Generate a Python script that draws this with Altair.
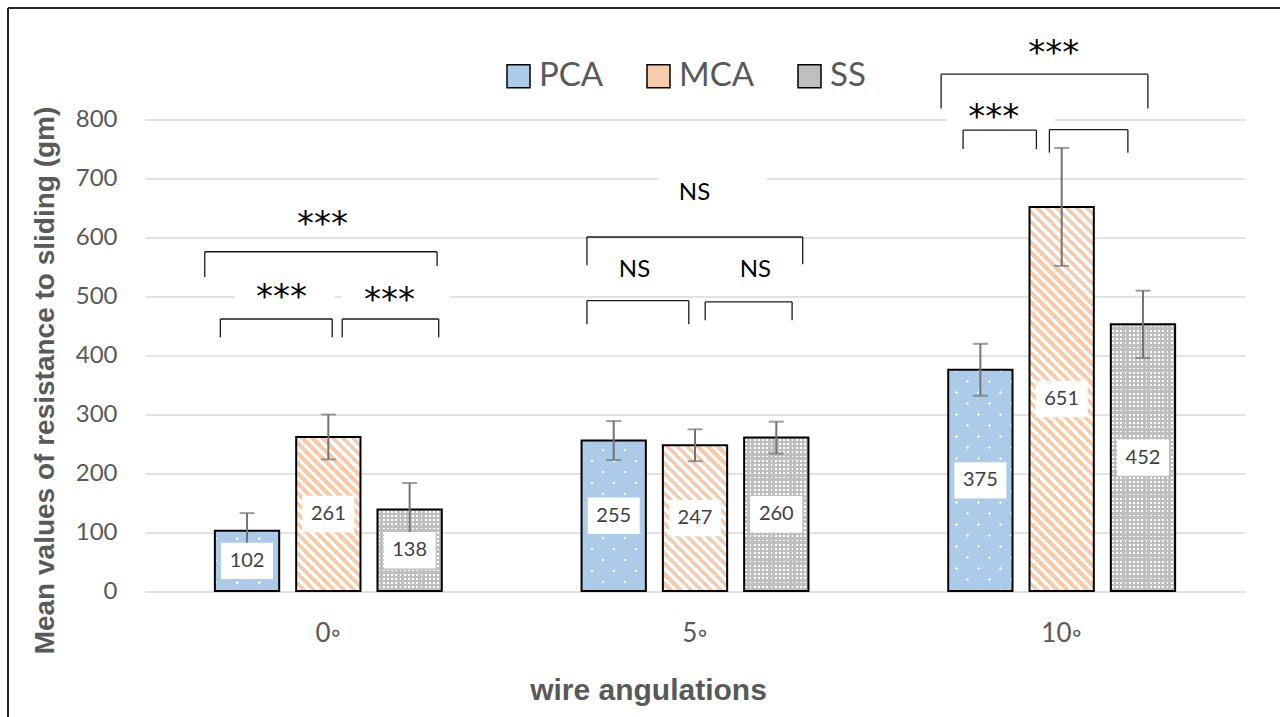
import math
import altair as alt
import pandas as pd

# ---------------- data ----------------
categories = ["0◦", "5◦", "10◦"]
series_names = ["PCA", "MCA", "SS"]
pca_values = [102, 255, 375]
mca_values = [261, 247, 651]
ss_values = [138, 260, 452]
pca_errors = [30, 33, 44]
mca_errors = [38, 27, 100]
ss_errors = [45, 27, 57]

# significance brackets: category index, ends relative to category centre (in category units),
# level of the bar of the bracket and level of each leg end
bracket_group = [0, 0, 0, 1, 1, 1, 2, 2, 2]
bracket_left = [-0.337, -0.2945, 0.0379, -0.2947, -0.2947, 0.0278, -0.3288, -0.2689, -0.0335]
bracket_right = [0.2966, 0.0106, 0.3010, 0.2937, -0.0169, 0.2648, 0.2351, -0.0689, 0.1806]
bracket_top = [575, 461, 461, 600, 492, 490, 876, 781, 782]
bracket_left_end = [532, 430, 430, 552, 452, 459, 818, 749, 743]
bracket_right_end = [551, 430, 430, 554, 452, 459, 818, 749, 743]

sig_group = [0, 0, 0, 1, 1, 1, 2, 2]
sig_offset = [-0.016, -0.1275, 0.1667, -0.0014, -0.165, 0.1648, -0.0218, -0.1852]
sig_level = [620, 496, 491, 674, 544, 544, 911, 802]
sig_text = ["***", "***", "***", "NS", "NS", "NS", "***", "***"]

# white text boxes (hide gridlines behind some significance labels)
box_group = [0, 0, 1, 2]
box_left = [-0.2555, 0.036, -0.0994, -0.3133]
box_right = [0.0169, 0.330, 0.195, -0.0191]
box_bottom = [485, 485, 660, 790]
box_top = [530, 530, 715, 850]

series_colors = ["#ABCBE9", "#F8CBAD", "#BFBFBF"]
CLEAR = "rgba(255,255,255,0)"

# ---------------- layout ----------------
W, H = 1100, 560.5
YMAX = 950
PXU = H / YMAX
BAND = W / 3
STEP, BW = 81.3, 64.3
P_IN = 1 - BW / STEP
P_OUT = (BAND / STEP - 3 + P_IN) / 2

YTITLE = "Mean values of resistance to sliding (gm)"
GRAY_TXT = "#595959"

rows = []
for si, (s, vals, errs) in enumerate(zip(series_names, [pca_values, mca_values, ss_values],
                                          [pca_errors, mca_errors, ss_errors])):
    for ci, (c, v, e) in enumerate(zip(categories, vals, errs)):
        rows.append(dict(cat=c, ci=ci, series=s, si=si, value=v, lo=v - e, hi=v + e,
                         mid=v / 2, label=str(v)))
df = pd.DataFrame(rows)

yaxis = alt.Axis(values=list(range(0, 801, 100)), grid=True, gridColor="#D9D9D9", gridWidth=1.3,
                 ticks=False, tickSize=0, domain=False, labelFont="Lato", labelFontSize=24,
                 labelColor=GRAY_TXT, labelPadding=28, titleFont="Liberation Sans",
                 titleFontWeight="bold", titleFontSize=28, titleColor=GRAY_TXT,
                 titleX=-100, titleY=349.5, titleAngle=270, titleAlign="center",
                 titleBaseline="middle")
xaxis = alt.Axis(labelAngle=0, ticks=False, tickSize=0, domain=False, grid=False,
                 labelFont="Lato", labelFontSize=26, labelColor=GRAY_TXT, labelPadding=29,
                 titleFont="Liberation Sans", titleFontWeight="bold", titleFontSize=30,
                 titleColor=GRAY_TXT, titleX=503, titleY=99, titleAlign="center",
                 titleBaseline="middle")


def X():
    return alt.X("cat:N", scale=alt.Scale(domain=categories, paddingInner=0, paddingOuter=0),
                 axis=xaxis, title="wire angulations")


def XO():
    return alt.XOffset("series:N", scale=alt.Scale(domain=series_names, paddingInner=P_IN,
                                                    paddingOuter=P_OUT))


def Y(field):
    return alt.Y(f"{field}:Q", scale=alt.Scale(domain=[0, YMAX], nice=False, zero=True),
                 axis=yaxis, title=YTITLE)


def grad(w, h, normal, period, on_w, on_color, off_color, phase=0.0):
    nx, ny = normal
    L = math.hypot(nx, ny)
    nx, ny = nx / L, ny / L
    corners = [(0.0, 0.0), (1.0, 0.0), (0.0, 1.0), (1.0, 1.0)]
    ds = [nx * cx * w + ny * cy * h for cx, cy in corners]
    i0 = min(range(4), key=lambda i: ds[i])
    span = max(ds) - ds[i0]
    gx, gy = nx * w, ny * h
    lam = span / (gx * gx + gy * gy)
    ax, ay = corners[i0]
    bx, by = ax + lam * gx, ay + lam * gy
    stops = [(0.0, off_color)]
    k = 0
    while True:
        a = phase + k * period
        b = a + on_w
        if a >= span:
            break
        oa = round(max(a, 0) / span, 5)
        ob = round(min(b, span) / span, 5)
        stops += [(oa, off_color), (oa, on_color), (ob, on_color), (ob, off_color)]
        k += 1
    stops.append((1.0, off_color))
    return {"gradient": "linear", "x1": round(ax, 5), "y1": round(ay, 5),
            "x2": round(bx, 5), "y2": round(by, 5),
            "stops": [{"offset": o, "color": c} for o, c in stops]}


# ---------------- bars ----------------
base = alt.Chart(df).mark_bar(strokeWidth=0).encode(
    x=X(), xOffset=XO(), y=Y("value"),
    fill=alt.Fill("series:N", scale=alt.Scale(domain=series_names, range=series_colors),
                  legend=alt.Legend(title=None, orient="none", legendX=357, legendY=29,
                                    direction="horizontal", symbolType="square",
                                    symbolSize=529, symbolStrokeColor="black",
                                    symbolStrokeWidth=1.5, labelFont="Lato",
                                    labelFontSize=33, labelColor=GRAY_TXT, labelOffset=4,
                                    columnPadding=38, padding=0)),
)

pattern_layers = []
for r in rows:
    w, h = BW, r["value"] * PXU
    basecol = series_colors[r["si"]]
    if r["series"] == "PCA":
        grads = [grad(w, h, (1, -1), 15.56, 2.2, "white", CLEAR, 5.0),
                 grad(w, h, (1, 1), 15.56, 2.2, CLEAR, basecol, 5.0)]
    elif r["series"] == "MCA":
        grads = [grad(w, h, (1, -1), 7.1, 3.3, "white", CLEAR, 1.0)]
    else:
        grads = [grad(w, h, (1, 0), 4.2, 1.8, "white", CLEAR, 1.2),
                 grad(w, h, (0, 1), 4.2, 1.8, CLEAR, basecol, 1.2)]
    for g in grads:
        pattern_layers.append(
            alt.Chart(df).transform_filter(f"datum.ci == {r['ci']} && datum.si == {r['si']}")
            .mark_bar(fill=g, strokeWidth=0)
            .encode(x=X(), xOffset=XO(), y=Y("value"))
        )

outline = alt.Chart(df).mark_bar(fillOpacity=0, stroke="black", strokeWidth=2).encode(
    x=X(), xOffset=XO(), y=Y("value"))

err_rule = alt.Chart(df).mark_rule(color="#737373", strokeWidth=2).encode(
    x=X(), xOffset=XO(), y=Y("lo"), y2="hi:Q")
err_lo = alt.Chart(df).mark_tick(color="#737373", size=15, thickness=2).encode(
    x=X(), xOffset=XO(), y=Y("lo"))
err_hi = alt.Chart(df).mark_tick(color="#737373", size=15, thickness=2).encode(
    x=X(), xOffset=XO(), y=Y("hi"))

label_box = alt.Chart(df).mark_point(
    shape="M-1,-0.7L1,-0.7L1,0.7L-1,0.7Z", size=2704, filled=True, fill="white",
    opacity=1, strokeWidth=0).encode(x=X(), xOffset=XO(), y=Y("mid"))
label_txt = alt.Chart(df).mark_text(font="Lato", fontSize=20, color="#404040",
                                     baseline="middle").encode(
    x=X(), xOffset=XO(), y=Y("mid"), text="label:N")

layer_a = alt.layer(base, *pattern_layers, outline, err_rule, err_lo, err_hi,
                    label_box, label_txt)

# ---------------- significance annotations ----------------
seg = []
for g, l, rr, t, bl, br in zip(bracket_group, bracket_left, bracket_right, bracket_top,
                                bracket_left_end, bracket_right_end):
    seg.append(dict(x=g + l, x2=g + rr, y=t, y2=t))
    seg.append(dict(x=g + l, x2=g + l, y=t, y2=bl))
    seg.append(dict(x=g + rr, x2=g + rr, y=t, y2=br))
seg_df = pd.DataFrame(seg)

sig_df = pd.DataFrame(dict(x=[g + o for g, o in zip(sig_group, sig_offset)], y=sig_level,
                           text=sig_text))
box_df = pd.DataFrame(dict(x=[g + l for g, l in zip(box_group, box_left)],
                           x2=[g + r for g, r in zip(box_group, box_right)],
                           y=box_bottom, y2=box_top))

QX = alt.Scale(domain=[-0.5, 2.5], nice=False, zero=False)

boxes = alt.Chart(box_df).mark_rect(fill="white").encode(
    x=alt.X("x:Q", scale=QX, axis=None), x2="x2:Q", y=Y("y"), y2="y2:Q")
brackets = alt.Chart(seg_df).mark_rule(color="#1a1a1a", strokeWidth=1.3).encode(
    x=alt.X("x:Q", scale=QX, axis=None), x2="x2:Q", y=Y("y"), y2="y2:Q")
stars = alt.Chart(sig_df).transform_filter("datum.text == '***'").mark_text(
    font="DejaVu Sans", fontSize=34, color="black", baseline="middle").encode(
    x=alt.X("x:Q", scale=QX, axis=None), y=Y("y"), text="text:N")
ns = alt.Chart(sig_df).transform_filter("datum.text == 'NS'").mark_text(
    font="Lato", fontSize=24, color="black", baseline="middle").encode(
    x=alt.X("x:Q", scale=QX, axis=None), y=Y("y"), text="text:N")

frame_df = pd.DataFrame({"k": [0]})
frame_v = alt.Chart(frame_df).mark_rule(color="#262626", strokeWidth=2).encode(
    x=alt.value(-137), y=alt.value(-22.5), y2=alt.value(690))
frame_h = alt.Chart(frame_df).mark_rule(color="#262626", strokeWidth=2).encode(
    x=alt.value(-137), x2=alt.value(1140), y=alt.value(-22.5))

layer_b = alt.layer(boxes, brackets, stars, ns, frame_v, frame_h)

chart = alt.layer(layer_a, layer_b).resolve_scale(x="independent").properties(
    width=W, height=H,
    background="white",
    autosize=alt.AutoSizeParams(type="none"),
    padding={"left": 145, "top": 30.5, "right": 35, "bottom": 126},
).configure_view(stroke="transparent", strokeWidth=0)

chart.save("out.html", embed_options={"renderer": "svg", "actions": False})
